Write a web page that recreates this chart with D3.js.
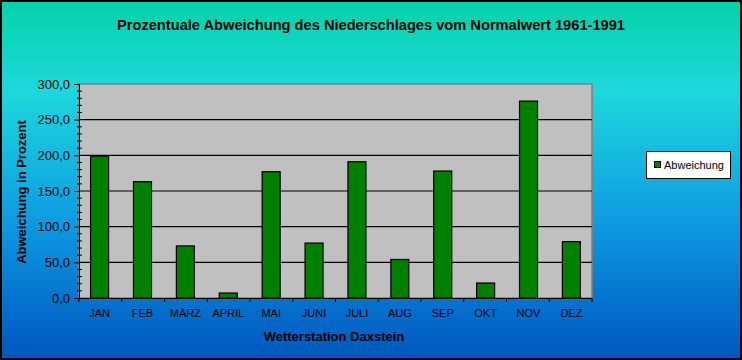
<!DOCTYPE html>
<html><head><meta charset="utf-8">
<script src="https://cdn.jsdelivr.net/npm/d3@7"></script>
<style>html,body{margin:0;padding:0;background:#fff}svg{display:block}</style>
</head><body>
<script>
const months = ["JAN","FEB","MÄRZ","APRIL","MAI","JUNI","JULI","AUG","SEP","OKT","NOV","DEZ"];
const abweichung = [199, 163, 73, 7, 177, 77, 191, 54, 178, 21, 276, 79];
const yTicks = [0, 50, 100, 150, 200, 250, 300];
const seriesName = "Abweichung";
const title = "Prozentuale Abweichung des Niederschlages vom Normalwert 1961-1991";
const xTitle = "Wetterstation Daxstein";
const yTitle = "Abweichung in Prozent";

const W = 742, H = 360;
const m = {left: 79, right: 150, top: 84, bottom: 62};
const svg = d3.select("body").append("svg").attr("width", W).attr("height", H);
const defs = svg.append("defs");
const g = defs.append("linearGradient").attr("id","bg").attr("x1",0).attr("y1",0).attr("x2",0).attr("y2",1);
[[0,"#03d3a6"],[0.25,"#1ed8dc"],[0.6,"#0e9ee2"],[0.93,"#0262c6"],[1,"#0058ba"]].forEach(([o,c])=>g.append("stop").attr("offset",o).attr("stop-color",c));
svg.append("rect").attr("width",W).attr("height",H).attr("fill","url(#bg)");
svg.append("rect").attr("x",1).attr("y",1).attr("width",W-2).attr("height",H-2).attr("fill","none").attr("stroke","#000").attr("stroke-width",2);

const x = d3.scaleBand().domain(months).range([m.left, W - m.right]).paddingInner(0.58).paddingOuter(0.27);
const y = d3.scaleLinear().domain([0,300]).range([H - m.bottom, m.top]);

// plot area
svg.append("rect").attr("x", m.left).attr("y", m.top).attr("width", W-m.right-m.left).attr("height", H-m.bottom-m.top)
  .attr("fill","#c0c0c0").attr("stroke","#808080").attr("stroke-width",1.5);
// grid
svg.append("g").selectAll("line").data(yTicks.filter(d=>d>0&&d<300)).join("line")
  .attr("x1", m.left).attr("x2", W-m.right).attr("y1", d=>y(d)).attr("y2", d=>y(d))
  .attr("stroke","#000").attr("stroke-width",1.2);

// bars
svg.append("g").selectAll("rect").data(abweichung).join("rect")
  .attr("x",(d,i)=>x(months[i])).attr("width",x.bandwidth())
  .attr("y",d=>y(d)).attr("height",d=>y(0)-y(d))
  .attr("fill","#008000").attr("stroke","#000").attr("stroke-width",1.2);

// y axis
const yAxis = svg.append("g").attr("transform",`translate(${m.left},0)`)
  .call(d3.axisLeft(y).tickValues(yTicks).tickFormat(d=>d3.format(".1f")(d).replace(".",",")).tickSize(5).tickPadding(4));
yAxis.select(".domain").attr("stroke","#000");
yAxis.selectAll("text").attr("font-family","Liberation Sans, Arial, sans-serif").attr("font-size","13px").attr("fill","#000");
yAxis.selectAll("line").attr("stroke","#000");
const minor = d3.range(0,301,10).filter(d=>d%50!==0);
svg.append("g").selectAll("line").data(minor).join("line")
  .attr("x1",m.left-2).attr("x2",m.left+3).attr("y1",d=>y(d)).attr("y2",d=>y(d)).attr("stroke","#000");

// x axis
const xAx = svg.append("g").attr("transform",`translate(0,${H-m.bottom})`)
  .call(d3.axisBottom(x).tickSize(0).tickPadding(11));
xAx.select(".domain").attr("stroke","#000").attr("stroke-width",1.2);
xAx.selectAll("text").attr("font-family","Liberation Sans, Arial, sans-serif").attr("font-size","11px").attr("fill","#000");
const bounds = d3.range(0,13).map(i=>m.left + i*(W-m.right-m.left)/12);
svg.append("g").selectAll("line").data(bounds).join("line")
  .attr("x1",d=>d).attr("x2",d=>d).attr("y1",H-m.bottom).attr("y2",H-m.bottom+4).attr("stroke","#000");

// titles
const bold = "Liberation Sans, Arial, sans-serif";
svg.append("text").attr("x",371).attr("y",30).attr("text-anchor","middle")
  .attr("font-family",bold).attr("font-weight","bold").attr("font-size","14px")
  .attr("textLength",508).attr("lengthAdjust","spacingAndGlyphs").text(title);
svg.append("text").attr("x",334).attr("y",341).attr("text-anchor","middle")
  .attr("font-family",bold).attr("font-weight","bold").attr("font-size","13px").text(xTitle);
svg.append("text").attr("transform","translate(26,192) rotate(-90)").attr("text-anchor","middle")
  .attr("font-family",bold).attr("font-weight","bold").attr("font-size","13px").text(yTitle);

// legend
const lg = svg.append("g");
lg.append("rect").attr("x",646.5).attr("y",151.5).attr("width",84).attr("height",27).attr("fill","#fff").attr("stroke","#000");
lg.append("rect").attr("x",654.5).attr("y",161.5).attr("width",6).attr("height",6).attr("fill","#008000").attr("stroke","#000");
lg.append("text").attr("x",664).attr("y",168.5).attr("font-family",bold).attr("font-size","11px").text(seriesName);
</script>
</body></html>
